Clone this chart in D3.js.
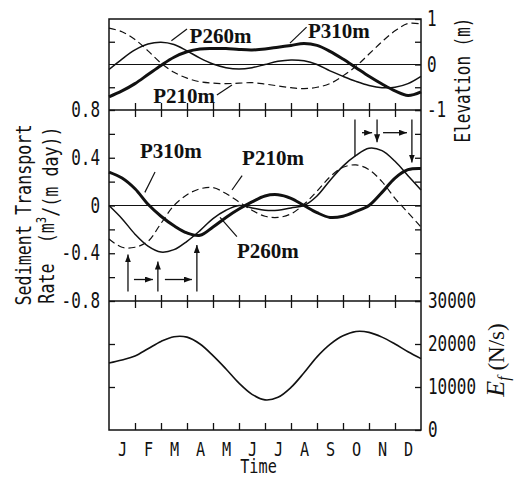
<!DOCTYPE html>
<html>
<head>
<meta charset="utf-8">
<script src="https://cdn.jsdelivr.net/npm/d3@7"></script>
<style>
  body { margin: 0; background: #fff; }
  text { fill: #111; }
</style>
</head>
<body>
<svg id="chart" width="522" height="480"></svg>
<script>
// time in months from 1 Jan
const months = [0,0.5,1,1.5,2,2.5,3,3.5,4,4.5,5,5.5,6,6.5,7,7.5,8,8.5,9,9.5,10,10.5,11,11.5,12];
const monthLabels = ["J","F","M","A","M","J","J","A","S","O","N","D"];

// elevation (m)
const elev210 = [0.80,0.72,0.55,0.30,0.03,-0.17,-0.30,-0.38,-0.41,-0.42,-0.41,-0.40,-0.43,-0.47,-0.51,-0.53,-0.50,-0.42,-0.25,-0.04,0.23,0.50,0.74,0.90,0.89];
const elev260 = [-0.11,0.12,0.32,0.45,0.49,0.44,0.30,0.14,0.01,-0.07,-0.10,-0.07,0.00,0.07,0.10,0.08,0.00,-0.14,-0.26,-0.37,-0.46,-0.51,-0.50,-0.42,-0.26];
const elev310 = [-0.71,-0.58,-0.42,-0.22,-0.02,0.16,0.28,0.34,0.35,0.35,0.33,0.32,0.34,0.38,0.42,0.46,0.42,0.29,0.12,-0.07,-0.26,-0.43,-0.58,-0.68,-0.60];

// sediment transport rate (m3/(m day))
const sed210 = [-0.28,-0.35,-0.35,-0.30,-0.15,0.00,0.09,0.14,0.15,0.10,0.03,-0.04,-0.09,-0.10,-0.07,0.01,0.12,0.24,0.32,0.34,0.30,0.20,0.06,-0.06,-0.18];
const sed260 = [0.00,-0.11,-0.24,-0.34,-0.39,-0.37,-0.30,-0.21,-0.11,-0.04,0.00,-0.02,-0.04,-0.04,-0.02,0.00,0.08,0.21,0.33,0.42,0.48,0.46,0.37,0.25,0.13];
const sed310 = [0.28,0.23,0.14,0.01,-0.09,-0.17,-0.23,-0.25,-0.18,-0.10,-0.03,0.03,0.08,0.09,0.06,0.00,-0.06,-0.10,-0.09,-0.05,0.00,0.11,0.23,0.30,0.31];

// wave energy flux Ef (N/s)
const energy = [15600,16300,17200,18900,20600,21700,21600,20000,17300,14200,10900,8300,7000,7600,9900,13300,17000,19900,21900,22900,22700,21600,20000,18200,16600];

// curve labels [text, month, value, leader from month, value, to month, value]
const elevNotes = [
  ["P260m", 3.1, 0.47, 3.0, 0.78, 2.4, 0.52],
  ["P310m", 7.65, 0.58, 7.6, 0.82, 6.96, 0.47],
  ["P210m", 1.7, -0.85, 4.15, -0.67, 4.73, -0.45]
];
const sedNotes = [
  ["P310m", 1.19, 0.40, 1.77, 0.28, 1.38, 0.11],
  ["P210m", 5.12, 0.34, 5.12, 0.25, 4.73, 0.13],
  ["P260m", 4.92, -0.44, 4.92, -0.26, 4.27, -0.10]
];
// arrows [month0, value0, month1, value1, head]
const sedArrows = [
  [0.73,-0.72,0.73,-0.41,1], [1.88,-0.72,1.88,-0.47,1], [3.38,-0.72,3.38,-0.33,1],
  [0.96,-0.62,1.69,-0.62,1], [2.15,-0.62,3.19,-0.62,1],
  [9.46,0.72,9.46,0.41,0], [10.31,0.72,10.31,0.53,1], [11.65,0.72,11.65,0.36,1],
  [9.73,0.61,10.12,0.61,1], [10.54,0.61,11.46,0.61,1]
];

const mono = "'DejaVu Sans Mono', monospace";
const serif = "'Liberation Serif', 'Times New Roman', serif";
const sx = 0.76;

const svg = d3.select("#chart");

const x = d3.scaleLinear().domain([0, 12]).range([109, 421]);
const yE = d3.scaleLinear().domain([-1, 1]).range([110, 19]);
const yS = d3.scaleLinear().domain([-0.8, 0.8]).range([301, 110]);
const yF = d3.scaleLinear().domain([0, 30000]).range([430, 301]);

svg.append("defs").append("marker")
    .attr("id", "head")
    .attr("markerUnits", "userSpaceOnUse")
    .attr("viewBox", "0 0 8 6")
    .attr("markerWidth", 8).attr("markerHeight", 6)
    .attr("refX", 8).attr("refY", 3)
    .attr("orient", "auto")
  .append("path").attr("d", "M0,0L8,3L0,6Z").attr("fill", "#111");

// zero lines
svg.append("line").attr("x1", x(0)).attr("x2", x(12)).attr("y1", yE(0)).attr("y2", yE(0))
    .attr("stroke", "#111").attr("stroke-width", 1.2);
svg.append("line").attr("x1", x(0)).attr("x2", x(12)).attr("y1", yS(0)).attr("y2", yS(0))
    .attr("stroke", "#111").attr("stroke-width", 1.2);

function curve(values, y, width, dash) {
  const line = d3.line()
      .x((d, i) => x(months[i]))
      .y(d => y(d))
      .curve(d3.curveCatmullRom.alpha(0.5));
  svg.append("path")
      .attr("d", line(values))
      .attr("fill", "none")
      .attr("stroke", "#111")
      .attr("stroke-width", width)
      .attr("stroke-dasharray", dash || null);
}

curve(elev210, yE, 1.2, "7,4");
curve(elev260, yE, 1.5);
curve(elev310, yE, 3);
curve(sed210, yS, 1.2, "7,4");
curve(sed260, yS, 1.5);
curve(sed310, yS, 3);
curve(energy, yF, 1.6);

// frame and panel dividers
svg.append("rect")
    .attr("x", x(0)).attr("y", yE(1))
    .attr("width", x(12) - x(0)).attr("height", yF(0) - yE(1))
    .attr("fill", "none").attr("stroke", "#111").attr("stroke-width", 1.5);
[yS(0.8), yS(-0.8)].forEach(yy => {
  svg.append("line").attr("x1", x(0)).attr("x2", x(12)).attr("y1", yy).attr("y2", yy)
      .attr("stroke", "#111").attr("stroke-width", 1.5);
});

function styleAxis(g, pad) {
  g.select(".domain").remove();
  g.selectAll("line").attr("stroke", "#111").attr("stroke-width", 1.3);
  g.attr("font-family", mono).attr("font-size", 21);
  g.selectAll("text")
      .attr("fill", "#111")
      .attr("transform", `scale(${sx},1)`);
  if (pad !== undefined) g.selectAll("text").attr("x", pad / sx);
}

const inner = [1,2,3,4,5,6,7,8,9,10,11];
const none = () => "";

// top panel y ticks
svg.append("g").attr("transform", `translate(${x(0)},0)`)
    .call(d3.axisLeft(yE).tickValues([0.5, -0.5]).tickSize(-6).tickFormat(none))
    .call(g => styleAxis(g));
svg.append("g").attr("transform", `translate(${x(12)},0)`)
    .call(d3.axisRight(yE).tickValues([1, 0.5, 0, -0.5, -1]).tickSize(-6)
        .tickFormat(d => Number.isInteger(d) ? (d < 0 ? "-" + (-d) : d) : ""))
    .call(g => styleAxis(g, 6));

// middle panel y ticks
const sedTicks = [-0.8,-0.6,-0.4,-0.2,0,0.2,0.4,0.6,0.8];
svg.append("g").attr("transform", `translate(${x(0)},0)`)
    .call(d3.axisLeft(yS).tickValues(sedTicks).tickSize(-6)
        .tickFormat(d => Math.abs(Math.round(d * 10)) % 4 === 0 ? (d === 0 ? "0" : (d < 0 ? "-" : "") + Math.abs(d).toFixed(1)) : ""))
    .call(g => styleAxis(g, -9));
svg.append("g").attr("transform", `translate(${x(12)},0)`)
    .call(d3.axisRight(yS).tickValues(sedTicks).tickSize(-6).tickFormat(none))
    .call(g => styleAxis(g));

// bottom panel y ticks
svg.append("g").attr("transform", `translate(${x(12)},0)`)
    .call(d3.axisRight(yF).tickValues([0, 10000, 20000, 30000]).tickSize(-6).tickFormat(d => d))
    .call(g => styleAxis(g, 7));
svg.append("g").attr("transform", `translate(${x(0)},0)`)
    .call(d3.axisLeft(yF).tickValues([10000, 20000]).tickSize(-6).tickFormat(none))
    .call(g => styleAxis(g));

// month ticks on panel borders
[[yS(0.8), 7, 7], [yS(-0.8), 6, 7], [yF(0), 7, 0]].forEach(([yy, up, down]) => {
  svg.append("g").attr("transform", `translate(0,${yy})`)
      .call(d3.axisTop(x).tickValues(inner).tickSize(up).tickFormat(none))
      .call(g => styleAxis(g));
  if (down) {
    svg.append("g").attr("transform", `translate(0,${yy})`)
        .call(d3.axisBottom(x).tickValues(inner).tickSize(down).tickFormat(none))
        .call(g => styleAxis(g));
  }
});

// month labels
svg.append("g").attr("transform", `translate(0,${yF(0)})`)
    .call(d3.axisBottom(x).tickValues(months.filter((m, i) => i % 2 === 1))
        .tickSize(0).tickPadding(12).tickFormat((d, i) => monthLabels[i]))
    .call(g => styleAxis(g))
    .attr("font-size", 20);

// axis titles
function title(px, py, rot, size) {
  return svg.append("text")
      .attr("transform", `translate(${px},${py}) rotate(${rot}) scale(${sx},1)`)
      .attr("text-anchor", "middle")
      .attr("font-family", mono)
      .attr("font-size", size)
      .style("white-space", "pre");
}
title(x(5.75), 473, 0, 20).text("Time");
title(470, 80, -90, 21).text("Elevation (m)");
title(31, 215, -90, 22).text("Sediment Transport");
const rate = title(54, 215, -90, 22);
rate.append("tspan").text("Rate  (m");
rate.append("tspan").attr("dy", "-0.55em").attr("font-size", 14).text("3");
rate.append("tspan").attr("dy", "0.55em").text("/(m day))");

const ef = svg.append("text")
    .attr("transform", `translate(504,360) rotate(-90)`)
    .attr("text-anchor", "middle")
    .attr("font-family", serif)
    .attr("font-size", 23);
ef.append("tspan").attr("font-style", "italic").attr("font-size", 26).text("E");
ef.append("tspan").attr("font-style", "italic").attr("font-size", 16).attr("dy", 5).text("f");
ef.append("tspan").attr("dy", -5).text(" (N/s)");

// curve labels and leaders
function notes(list, y) {
  list.forEach(([t, mx, vy, m0, v0, m1, v1]) => {
    svg.append("text")
        .attr("x", x(mx)).attr("y", y(vy))
        .attr("font-family", serif).attr("font-weight", "bold").attr("font-size", 21)
        .text(t);
    svg.append("line")
        .attr("x1", x(m0)).attr("y1", y(v0)).attr("x2", x(m1)).attr("y2", y(v1))
        .attr("stroke", "#111").attr("stroke-width", 1.2);
  });
}
notes(elevNotes, yE);
notes(sedNotes, yS);

sedArrows.forEach(([m0, v0, m1, v1, h]) => {
  svg.append("line")
      .attr("x1", x(m0)).attr("y1", yS(v0)).attr("x2", x(m1)).attr("y2", yS(v1))
      .attr("stroke", "#111").attr("stroke-width", 1.3)
      .attr("marker-end", h ? "url(#head)" : null);
});
</script>
</body>
</html>
